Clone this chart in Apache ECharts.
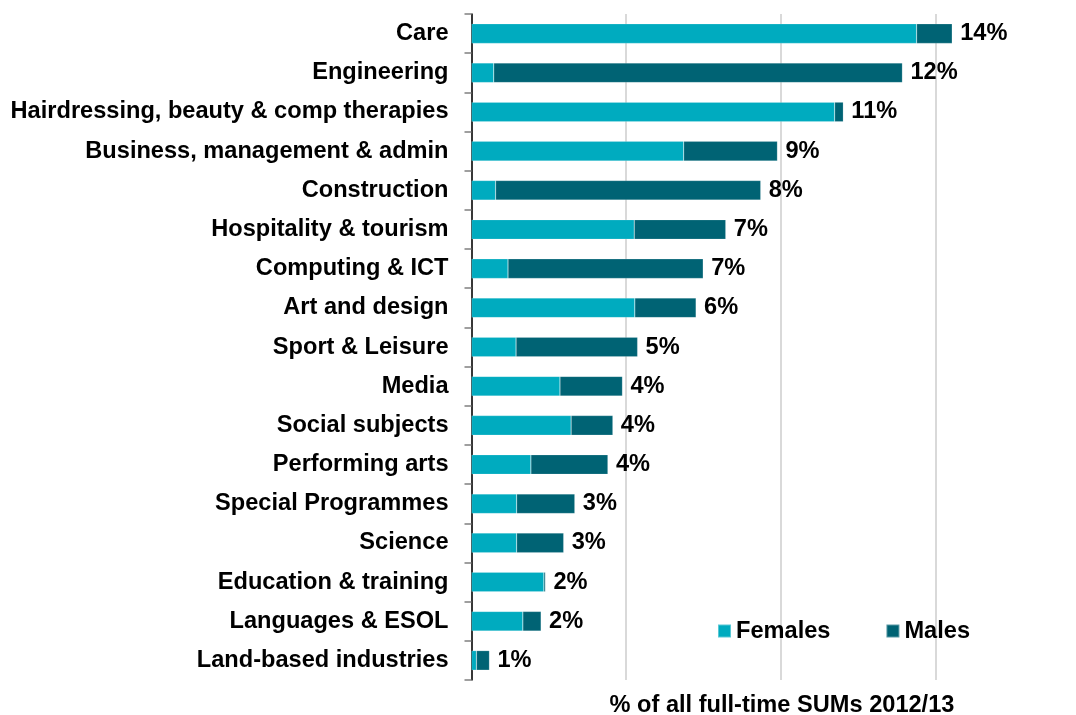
<!DOCTYPE html>
<html>
<head>
<meta charset="utf-8">
<script src="https://cdn.jsdelivr.net/npm/echarts@6/dist/echarts.min.js"></script>
<style>
html,body{margin:0;padding:0;background:#fff;}
#chart{width:1076px;height:715px;}
</style>
</head>
<body>
<div id="chart"></div>
<script>
const categories = [
  'Care', 'Engineering', 'Hairdressing, beauty & comp therapies', 'Business, management & admin',
  'Construction', 'Hospitality & tourism', 'Computing & ICT', 'Art and design', 'Sport & Leisure',
  'Media', 'Social subjects', 'Performing arts', 'Special Programmes', 'Science',
  'Education & training', 'Languages & ESOL', 'Land-based industries'
];
const females = [14.39, 0.72, 11.74, 6.86, 0.78, 5.26, 1.18, 5.28, 1.44, 2.86, 3.22, 1.92, 1.46, 1.46, 2.34, 1.66, 0.16];
const males   = [1.15, 13.21, 0.28, 3.03, 8.57, 2.96, 6.31, 1.98, 3.93, 2.02, 1.35, 2.49, 1.88, 1.52, 0.05, 0.59, 0.42];
const totalLabels = ['14%', '12%', '11%', '9%', '8%', '7%', '7%', '6%', '5%', '4%', '4%', '4%', '3%', '3%', '2%', '2%', '1%'];
const axisTitle = '% of all full-time SUMs 2012/13';

const FONT = '"Liberation Sans", Arial, Helvetica, sans-serif';
const FS = 23.6;
const chart = echarts.init(document.getElementById('chart'));
chart.setOption({
  animation: false,
  backgroundColor: '#ffffff',
  textStyle: { fontFamily: FONT },
  grid: { left: 471.5, top: 14, right: 140.5, bottom: 35, containLabel: false },
  title: {
    text: axisTitle, left: 782, top: 693, textAlign: 'center', padding: 0,
    textStyle: { fontFamily: FONT, fontSize: FS, fontWeight: 'bold', color: '#000' }
  },
  legend: {
    data: ['Females', 'Males'],
    left: 717, top: 619, padding: 0,
    icon: 'rect', itemWidth: 13, itemHeight: 13, itemGap: 55,
    textStyle: { fontFamily: FONT, fontSize: FS, fontWeight: 'bold', color: '#000' }
  },
  xAxis: {
    type: 'value', min: 0, max: 15, interval: 5,
    axisLine: { show: false }, axisTick: { show: false }, axisLabel: { show: false },
    splitLine: { show: true, lineStyle: { color: '#d9d9d9', width: 2 } }
  },
  yAxis: {
    type: 'category', data: categories, inverse: true,
    axisLine: { show: true, lineStyle: { color: '#000', width: 1.5 } },
    axisTick: { show: true, length: 7, lineStyle: { color: '#808080', width: 1.5 } },
    axisLabel: { margin: 23, fontFamily: FONT, fontSize: FS, fontWeight: 'bold', color: '#000' }
  },
  series: [
    {
      name: 'Females', type: 'bar', stack: 'total', data: females, barWidth: '50%', clip: false,
      itemStyle: { color: '#00abbf', borderColor: 'rgba(255,255,255,0.35)', borderWidth: 0.5 }
    },
    {
      name: 'Males', type: 'bar', stack: 'total', data: males, barWidth: '50%', clip: false,
      itemStyle: { color: '#006374', borderColor: 'rgba(255,255,255,0.35)', borderWidth: 0.5 },
      label: {
        show: true, position: 'right', distance: 8,
        formatter: p => totalLabels[p.dataIndex],
        fontFamily: FONT, fontSize: FS, fontWeight: 'bold', color: '#000'
      }
    }
  ]
});
</script>
</body>
</html>
